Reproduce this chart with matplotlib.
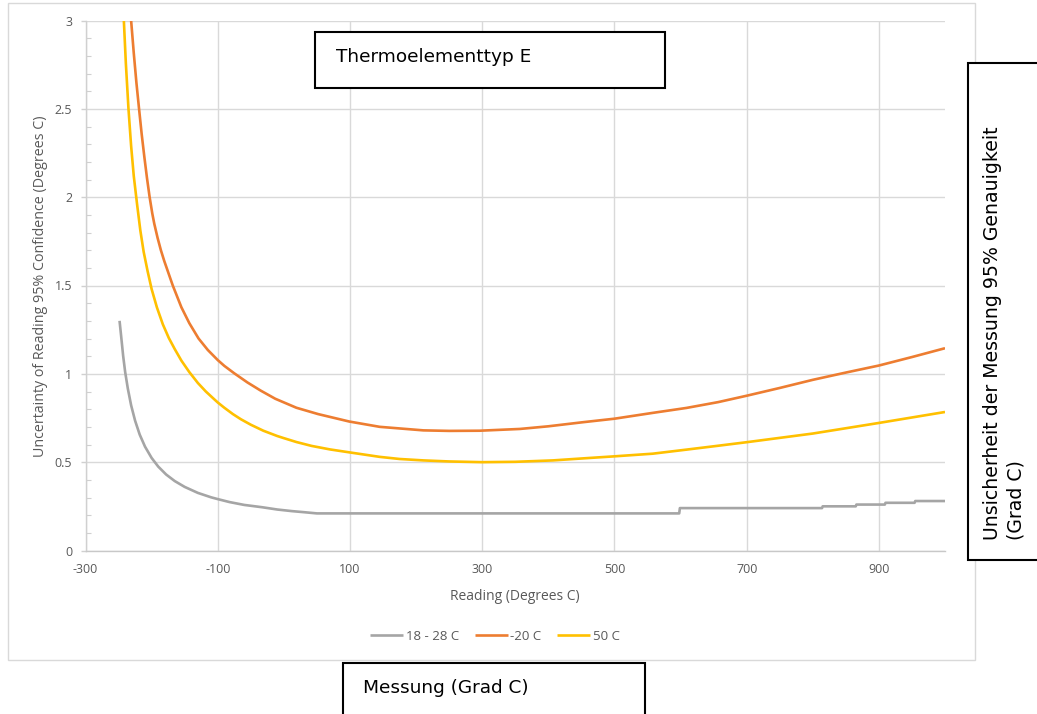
import matplotlib
matplotlib.use("Agg")
import matplotlib.pyplot as plt
from matplotlib.patches import Rectangle
from matplotlib.ticker import MultipleLocator

# ---------------- data ----------------
series_names = ["18 - 28 C", "-20 C", "50 C"]

gray_x = [-248.5, -246, -243, -240, -236, -231, -225, -218, -210, -200, -190, -178,
          -165, -150, -130, -110, -99, -82, -60, -33, -10, 12, 30, 50,
          598, 599, 814, 815, 865, 866, 909, 910, 954, 955, 1000]
gray_y = [1.30, 1.21, 1.10, 1.01, 0.917, 0.822, 0.735, 0.656, 0.588, 0.524, 0.475, 0.43,
          0.393, 0.36, 0.326, 0.301, 0.29, 0.274, 0.258, 0.245, 0.232, 0.223, 0.217, 0.21,
          0.21, 0.24, 0.24, 0.25, 0.25, 0.26, 0.26, 0.27, 0.27, 0.28, 0.28]

orange_x = [-233, -231, -227, -223, -219, -215, -211, -207, -203, -199, -196, -191,
            -186, -181, -168, -155, -143, -129, -115, -100, -90, -75, -55, -35, -13,
            19, 52, 99, 145, 211, 250, 296, 357, 400, 452, 500, 558, 609, 657, 700,
            750, 800, 851, 900, 950, 1000]
orange_y = [3.09, 3.0, 2.816, 2.648, 2.50, 2.356, 2.228, 2.108, 2.0, 1.908, 1.85, 1.77,
            1.70, 1.64, 1.50, 1.377, 1.287, 1.20, 1.135, 1.078, 1.045, 1.003, 0.951,
            0.905, 0.859, 0.808, 0.772, 0.73, 0.70, 0.68, 0.677, 0.678, 0.688, 0.703,
            0.726, 0.746, 0.779, 0.807, 0.84, 0.876, 0.92, 0.966, 1.008, 1.047, 1.095,
            1.145]

yellow_x = [-244, -242, -239, -235, -231, -227, -222, -217, -212, -206, -200, -192,
            -183, -174, -165, -155, -143, -130, -118, -105, -100, -90, -77, -65, -50,
            -31, -10, 0, 19, 42, 70, 100, 145, 175, 211, 250, 300, 350, 407, 463, 500,
            558, 609, 657, 700, 800, 900, 1000]
yellow_y = [3.15, 3.0, 2.76, 2.50, 2.29, 2.12, 1.96, 1.81, 1.69, 1.58, 1.48, 1.376,
            1.28, 1.203, 1.14, 1.075, 1.01, 0.948, 0.90, 0.855, 0.838, 0.808, 0.772,
            0.743, 0.712, 0.678, 0.648, 0.636, 0.614, 0.592, 0.572, 0.555, 0.53, 0.518,
            0.51, 0.504, 0.50, 0.502, 0.51, 0.524, 0.533, 0.548, 0.571, 0.593, 0.613,
            0.662, 0.722, 0.784]

x_ticks = [-300, -100, 100, 300, 500, 700, 900]
y_ticks = [0, 0.5, 1, 1.5, 2, 2.5, 3]
y_tick_labels = ["0", "0.5", "1", "1.5", "2", "2.5", "3"]

title_box_text = "Thermoelementtyp E"
right_box_line1 = "Unsicherheit der Messung 95% Genauigkeit"
right_box_line2 = "(Grad C)"
bottom_box_text = "Messung (Grad C)"
x_label = "Reading (Degrees C)"
y_label = "Uncertainty of Reading 95% Confidence (Degrees C)"

colors = ["#A5A5A5", "#ED7D31", "#FFC000"]

# ---------------- figure ----------------
W, H = 1037, 714
fig = plt.figure(figsize=(W / 100, H / 100), dpi=100)
fig.patch.set_facecolor("white")


def fx(px):
    return px / W


def fy(py):
    return 1 - py / H


tick_font = "Open Sans"
tick_color = "#595959"

# chart-area border
fig.add_artist(Rectangle((fx(8), fy(660)), (975 - 8) / W, (660 - 3) / H,
                         transform=fig.transFigure, fill=False,
                         edgecolor="#D9D9D9", lw=1.0, zorder=0))

ax = fig.add_axes([fx(85.5), fy(550.5), (945 - 85.5) / W, (550.5 - 20.5) / H])
ax.set_facecolor("none")

for xs, ys, c, name in zip([gray_x, orange_x, yellow_x],
                           [gray_y, orange_y, yellow_y], colors, series_names):
    ax.plot(xs, ys, color=c, lw=1.9, label=name, solid_capstyle="butt",
            solid_joinstyle="round", zorder=3)

ax.set_xlim(-300, 1000)
ax.set_ylim(0, 3)
ax.set_xticks(x_ticks)
ax.set_xticklabels([str(v) for v in x_ticks])
ax.set_yticks(y_ticks)
ax.set_yticklabels(y_tick_labels)
ax.yaxis.set_minor_locator(MultipleLocator(0.1))

ax.grid(True, which="major", color="#D9D9D9", lw=1.0, zorder=0)
ax.set_axisbelow(True)

for s in ["top", "right"]:
    ax.spines[s].set_visible(False)
ax.spines["left"].set_color("#D0D0D0")
ax.spines["bottom"].set_color("#C8C8C8")
ax.spines["left"].set_linewidth(1.0)
ax.spines["bottom"].set_linewidth(1.0)

ax.tick_params(axis="x", which="major", length=0, pad=9,
               labelcolor=tick_color, labelsize=9)
ax.tick_params(axis="y", which="major", length=3.5, width=1.0, color="#D0D0D0",
               direction="out", pad=6, labelcolor=tick_color, labelsize=9)
ax.tick_params(axis="y", which="minor", length=3.5, width=0.8, color="#D0D0D0",
               direction="in")
for lab in ax.get_xticklabels() + ax.get_yticklabels():
    lab.set_fontfamily(tick_font)

fig.text(fx(515), fy(596), x_label, ha="center", va="center",
         fontsize=10, color=tick_color, family=tick_font)
fig.text(fx(41), fy(286), y_label, ha="center", va="center", rotation=90,
         fontsize=10.3, color=tick_color, family=tick_font)

leg = ax.legend(loc="center", bbox_to_anchor=(fx(495), fy(636)),
                bbox_transform=fig.transFigure, ncol=3, frameon=False,
                handlelength=2.5, handletextpad=0.2, columnspacing=1.2,
                prop={"family": tick_font, "size": 9.5})
for t in leg.get_texts():
    t.set_color(tick_color)

# ---------------- text boxes ----------------
box_font = "DejaVu Sans"
box_size = 13.3
box_lw = 1.5

fig.add_artist(Rectangle((fx(315), fy(88)), (665 - 315) / W, (88 - 32) / H,
                         transform=fig.transFigure, facecolor="white",
                         edgecolor="black", lw=box_lw, zorder=5))
fig.text(fx(336), fy(62.3), title_box_text, ha="left", va="baseline",
         fontsize=box_size, family=box_font, color="black", zorder=6)

fig.add_artist(Rectangle((fx(968), fy(560)), (1050 - 968) / W, (560 - 63) / H,
                         transform=fig.transFigure, facecolor="white",
                         edgecolor="black", lw=box_lw, zorder=5, clip_on=False))
fig.text(fx(998), fy(540), right_box_line1, ha="left", va="baseline", rotation=90,
         rotation_mode="anchor", fontsize=13.6, family=box_font,
         color="black", zorder=6)
fig.text(fx(1022), fy(540), right_box_line2, ha="left", va="baseline", rotation=90,
         rotation_mode="anchor", fontsize=13.6, family=box_font,
         color="black", zorder=6)

fig.add_artist(Rectangle((fx(343), fy(730)), (645 - 343) / W, (730 - 663) / H,
                         transform=fig.transFigure, facecolor="white",
                         edgecolor="black", lw=box_lw, zorder=5, clip_on=False))
fig.text(fx(363), fy(693.3), bottom_box_text, ha="left", va="baseline",
         fontsize=box_size, family=box_font, color="black", zorder=6)

fig.savefig("out.png", dpi=100)
